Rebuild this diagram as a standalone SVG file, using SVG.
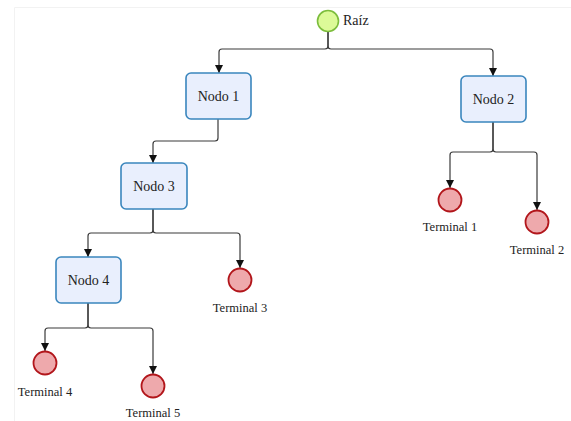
<svg xmlns="http://www.w3.org/2000/svg" width="571" height="421" viewBox="0 0 571 421">
  <defs>
    <marker id="arrow" viewBox="0 0 8 8" refX="8" refY="4" markerWidth="8" markerHeight="8" markerUnits="userSpaceOnUse" orient="auto">
      <path d="M0,0 L8,4 L0,8 Z" fill="#111"/>
    </marker>
    <style>
      .frame { fill: none; stroke: #f2f2f2; stroke-width: 1; }
      .edge { fill: none; stroke: #3a3a3a; stroke-width: 1.2; marker-end: url(#arrow); }
      .box { fill: #e9effd; stroke: #3a86bd; stroke-width: 1.6; }
      .root { fill: #dcfa98; stroke: #7cbd3c; stroke-width: 1.6; }
      .term { fill: #eea9ac; stroke: #b2161b; stroke-width: 1.8; }
      .lbl { font-family: "Liberation Serif", "Times New Roman", serif; fill: #222; }
      .node-lbl { font-size: 14px; text-anchor: middle; }
      .term-lbl { font-size: 12.5px; text-anchor: middle; }
    </style>
  </defs>

  <rect width="571" height="421" fill="#ffffff"/>
  <path class="frame" d="M14.5,421 V7.5 H571"/>

  <g id="connectors">
    <path class="edge" d="M328,32 V46 Q328,49 325,49 H222 Q219,49 219,52 V73"/>
    <path class="edge" d="M328,32 V46 Q328,49 331,49 H490 Q493,49 493,52 V76"/>
    <path class="edge" d="M218,119 V138 Q218,141 215,141 H156 Q153,141 153,144 V163"/>
    <path class="edge" d="M493,122 V149 Q493,152 490,152 H453 Q450,152 450,155 V188"/>
    <path class="edge" d="M493,122 V149 Q493,152 496,152 H534 Q537,152 537,155 V210"/>
    <path class="edge" d="M153,209 V230 Q153,233 150,233 H91 Q88,233 88,236 V257"/>
    <path class="edge" d="M153,209 V230 Q153,233 156,233 H237 Q240,233 240,236 V268"/>
    <path class="edge" d="M88,303 V325 Q88,328 85,328 H48 Q45,328 45,331 V351"/>
    <path class="edge" d="M88,303 V325 Q88,328 91,328 H150 Q153,328 153,331 V374"/>
  </g>

  <g id="raiz">
    <circle class="root" cx="328" cy="21" r="10.5"/>
    <text class="lbl" x="343" y="25" font-size="14">Raíz</text>
  </g>

  <g id="nodo1">
    <rect class="box" x="186" y="73" width="65" height="46" rx="5"/>
    <text class="lbl node-lbl" x="218.5" y="101">Nodo 1</text>
  </g>

  <g id="nodo2">
    <rect class="box" x="461" y="76" width="65" height="46" rx="5"/>
    <text class="lbl node-lbl" x="493.5" y="104">Nodo 2</text>
  </g>

  <g id="nodo3">
    <rect class="box" x="121" y="163" width="66" height="46" rx="5"/>
    <text class="lbl node-lbl" x="154" y="191">Nodo 3</text>
  </g>

  <g id="nodo4">
    <rect class="box" x="56" y="257" width="65" height="46" rx="5"/>
    <text class="lbl node-lbl" x="88.5" y="285">Nodo 4</text>
  </g>

  <g id="terminal1">
    <circle class="term" cx="450" cy="200" r="11.5"/>
    <text class="lbl term-lbl" x="450" y="231">Terminal 1</text>
  </g>

  <g id="terminal2">
    <circle class="term" cx="537" cy="222" r="11.5"/>
    <text class="lbl term-lbl" x="537" y="254">Terminal 2</text>
  </g>

  <g id="terminal3">
    <circle class="term" cx="240" cy="280" r="11.5"/>
    <text class="lbl term-lbl" x="240" y="312">Terminal 3</text>
  </g>

  <g id="terminal4">
    <circle class="term" cx="45" cy="363" r="11.5"/>
    <text class="lbl term-lbl" x="45" y="396">Terminal 4</text>
  </g>

  <g id="terminal5">
    <circle class="term" cx="153" cy="386" r="11.5"/>
    <text class="lbl term-lbl" x="153" y="417">Terminal 5</text>
  </g>
</svg>
